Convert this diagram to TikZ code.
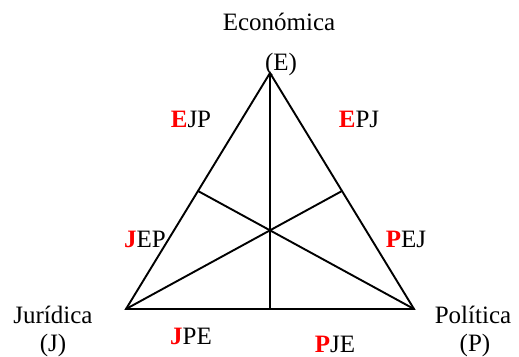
\documentclass[tikz,border=0pt]{standalone}
\usepackage{fontspec}
\setmainfont{Liberation Serif}
\usepackage{xcolor}
\usepackage{tikz}
\usetikzlibrary{calc}

\newcommand{\lead}[1]{\textcolor{red}{\textbf{#1}}}

\begin{document}
\begin{tikzpicture}[x=1pt, y=1pt, line width=1.9pt,
    lbl/.style={inner sep=0pt, anchor=base, font=\fontsize{25}{29}\selectfont}]
    \useasboundingbox (0,0) rectangle (519,356);
    % vertices and midpoints
    \coordinate (E) at (270,283);
    \coordinate (J) at (126,47);
    \coordinate (P) at (414,47);
    \coordinate (mJP) at ($(J)!0.5!(P)$);
    \coordinate (mEP) at ($(E)!0.5!(P)$);
    \coordinate (mEJ) at ($(E)!0.5!(J)$);
    \draw (E) -- (J) -- (P) -- cycle;
    \draw (E) -- (mJP);
    \draw (J) -- (mEP);
    \draw (P) -- (mEJ);
    % vertex names
    \node[lbl] (econ) at (279,325) {Económica};
    \node[lbl] (econE) at (281,285) {(E)};
    \node[lbl] (jur) at (53,33) {Jurídica};
    \node[lbl] (jurJ) at (53,5) {(J)};
    \node[lbl] (pol) at (473,33) {Política};
    \node[lbl] (polP) at (475,5) {(P)};
    % orderings
    \node[lbl] (ejp) at (191,228) {\lead{E}JP};
    \node[lbl] (epj) at (359,228) {\lead{E}PJ};
    \node[lbl] (jep) at (145,108) {\lead{J}EP};
    \node[lbl] (pej) at (406,108) {\lead{P}EJ};
    \node[lbl] (jpe) at (191,12) {\lead{J}PE};
    \node[lbl] (pje) at (335,4) {\lead{P}JE};
\end{tikzpicture}
\end{document}
